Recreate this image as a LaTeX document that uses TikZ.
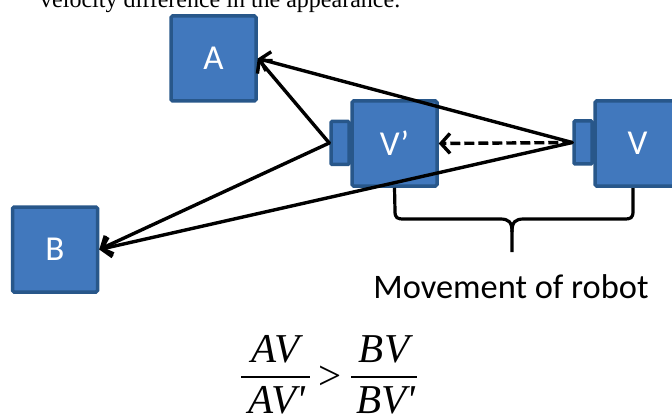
\documentclass[tikz,border=0pt]{standalone}
\usepackage{fontspec}
\setmainfont{Liberation Serif}
\newfontfamily\calib{Carlito}
\newfontfamily\fracfont{Liberation Serif}[Ligatures=TeXOff]
\usetikzlibrary{arrows.meta}
\definecolor{boxfill}{RGB}{65,120,189}
\definecolor{boxline}{RGB}{40,87,138}
\begin{document}
\begin{tikzpicture}[x=1pt,y=-1pt,
  robot/.style={draw=boxline, fill=boxfill, line width=3.5pt, rounded corners=1.5pt,
    minimum width=85pt, minimum height=85pt, inner sep=0pt, text=white,
    font=\calib\fontsize{35}{40}\selectfont},
  tabbox/.style={draw=boxline, fill=boxfill, line width=3.5pt, rounded corners=1pt,
    minimum width=18pt, minimum height=43pt, inner sep=0pt},
  link/.style={line width=3.4pt, line cap=round, -{Straight Barb[length=9pt,width=20pt]}},
  dlink/.style={line width=3.4pt, dash pattern=on 10pt off 4pt, -{Straight Barb[length=9pt,width=20pt]}},
  bracepath/.style={line width=3.2pt, line join=round},
  fracbar/.style={line width=1.8pt},
  mathtxt/.style={inner sep=0pt, font=\fracfont\fontsize{41}{44}\selectfont\itshape},
]
\useasboundingbox (0,0) rectangle (672,417);
\clip (0,0) rectangle (672,417);

\node[anchor=base west, inner sep=0pt, font=\fontsize{24}{28}\selectfont] (top) at (40,8) {velocity difference in the appearance.};

% robots and boxes
\node[tabbox] (vptab) at (340,143) {};
\node[robot] (vp) at (394.5,143.5) {V’};
\node[tabbox] (vtab) at (583,142.5) {};
\node[robot] (v) at (637.5,143.5) {V};
\node[robot] (a) at (213.5,58.5) {A};
\node[robot] (b) at (55,249.5) {B};

% connectors
\draw[link] (vtab.west) -- (a.east);
\draw[link] (vtab.west) -- (b.east);
\draw[link] (vptab.west) -- (a.east);
\draw[link] (vptab.west) -- (b.east);
\draw[dlink] (vtab.west) -- (vp.east);

% brace
\coordinate (bl) at (vp.south);
\coordinate (br) at (633,188);
\coordinate (bm) at (512,252);
\draw[bracepath] (bl) -- (395,211) .. controls (395,218) and (397,219) .. (404,219)
  -- (500,219) .. controls (509,219) and (512,222) .. (512,232) -- (bm);
\draw[bracepath] (br) -- (633,211) .. controls (633,218) and (631,219) .. (624,219)
  -- (524,219) .. controls (515,219) and (512,222) .. (512,232);

\node[anchor=base, inner sep=0pt, font=\calib\fontsize{34.4}{40}\selectfont] (mv) at (511,298) {Movement of robot};

% formula
\coordinate (f1l) at (241,377); \coordinate (f1r) at (310,377);
\coordinate (f2l) at (351,377); \coordinate (f2r) at (417,377);
\draw[fracbar] (f1l) -- (f1r);
\draw[fracbar] (f2l) -- (f2r);
\node[mathtxt, anchor=base] (n1) at (275.5,362) {AV};
\node[mathtxt, anchor=base] (d1) at (277,413) {AV'};
\node[mathtxt, anchor=base] (n2) at (384,362) {BV};
\node[mathtxt, anchor=base] (d2) at (386,413) {BV'};
\node[inner sep=0pt, font=\fracfont\fontsize{41}{44}\selectfont] (gt) at (330,378) {>};
\end{tikzpicture}
\end{document}
